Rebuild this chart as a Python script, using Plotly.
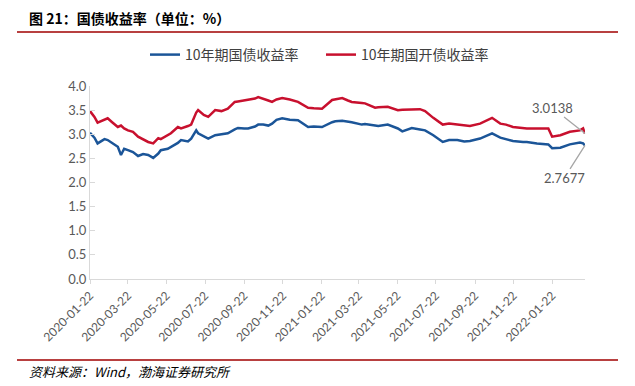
import plotly.graph_objects as go

dates = [
    "2020-01-22", "2020-01-29", "2020-02-03", "2020-02-10", "2020-02-14", "2020-02-19",
    "2020-02-26", "2020-03-06", "2020-03-11", "2020-03-16", "2020-03-22", "2020-03-30",
    "2020-04-07", "2020-04-15", "2020-04-23", "2020-05-01", "2020-05-09", "2020-05-13",
    "2020-05-24", "2020-05-29", "2020-06-09", "2020-06-14", "2020-06-25", "2020-06-30",
    "2020-07-08", "2020-07-11", "2020-07-20", "2020-07-27", "2020-08-07", "2020-08-17",
    "2020-08-27", "2020-09-07", "2020-09-12", "2020-09-22", "2020-09-28", "2020-10-09",
    "2020-10-14", "2020-10-22", "2020-10-30", "2020-11-05", "2020-11-12", "2020-11-21",
    "2020-12-03", "2020-12-16", "2021-01-01", "2021-01-10", "2021-01-23", "2021-02-08",
    "2021-02-13", "2021-02-24", "2021-03-05", "2021-03-11", "2021-03-27", "2021-04-01",
    "2021-04-17", "2021-04-22", "2021-05-07", "2021-05-23", "2021-05-30", "2021-06-14",
    "2021-06-27", "2021-07-05", "2021-07-18", "2021-08-02", "2021-08-12", "2021-08-25",
    "2021-09-05", "2021-09-14", "2021-09-30", "2021-10-10", "2021-10-19", "2021-11-01",
    "2021-11-10", "2021-11-21", "2021-12-07", "2021-12-13", "2021-12-29", "2022-01-16",
    "2022-01-22", "2022-02-04", "2022-02-19", "2022-03-07", "2022-03-12", "2022-03-15",
]

cdb_10y = [
    3.48, 3.36, 3.24, 3.28, 3.31, 3.33,
    3.25, 3.15, 3.18, 3.12, 3.08, 3.05,
    2.95, 2.90, 2.84, 2.81, 2.92, 2.90,
    2.98, 3.02, 3.15, 3.12, 3.17, 3.20,
    3.45, 3.50, 3.40, 3.36, 3.50, 3.48,
    3.53, 3.67, 3.68, 3.70, 3.71, 3.74,
    3.77, 3.74, 3.70, 3.67, 3.72, 3.75,
    3.72, 3.67, 3.55, 3.54, 3.53, 3.71,
    3.72, 3.75, 3.70, 3.67, 3.65, 3.64,
    3.55, 3.56, 3.57, 3.50, 3.51, 3.52,
    3.52, 3.48, 3.34, 3.20, 3.22, 3.20,
    3.18, 3.17, 3.22, 3.28, 3.34, 3.22,
    3.20, 3.15, 3.12, 3.12, 3.12, 3.12,
    2.95, 2.98, 3.05, 3.08, 3.12, 3.0138,
]

gov_10y = [
    3.03, 2.93, 2.81, 2.86, 2.90, 2.88,
    2.82, 2.74, 2.57, 2.70, 2.67, 2.63,
    2.55, 2.59, 2.57, 2.51, 2.60, 2.67,
    2.70, 2.74, 2.82, 2.88, 2.85, 2.91,
    3.08, 3.02, 2.95, 2.91, 2.98, 3.00,
    3.02, 3.10, 3.13, 3.12, 3.12, 3.16,
    3.20, 3.20, 3.18, 3.22, 3.30, 3.33,
    3.30, 3.29, 3.15, 3.16, 3.15, 3.25,
    3.27, 3.28, 3.27, 3.25, 3.20, 3.21,
    3.18, 3.17, 3.20, 3.12, 3.06, 3.13,
    3.10, 3.08, 2.98, 2.84, 2.88, 2.88,
    2.85, 2.86, 2.91, 2.96, 3.02, 2.93,
    2.90, 2.86, 2.84, 2.84, 2.81, 2.79,
    2.71, 2.72, 2.79, 2.83, 2.81, 2.7677,
]

tick_dates = [
    "2020-01-22", "2020-03-22", "2020-05-22", "2020-07-22", "2020-09-22", "2020-11-22",
    "2021-01-22", "2021-03-22", "2021-05-22", "2021-07-22", "2021-09-22", "2021-11-22",
    "2022-01-22",
]
y_ticks = [0.0, 0.5, 1.0, 1.5, 2.0, 2.5, 3.0, 3.5, 4.0]

BLUE = "#1B5598"
RED = "#C8102E"
CJK = "Noto Sans CJK SC"

fig = go.Figure()
fig.add_trace(go.Scatter(x=dates, y=gov_10y, mode="lines", name="10年期国债收益率",
                         line=dict(color=BLUE, width=2.5)))
fig.add_trace(go.Scatter(x=dates, y=cdb_10y, mode="lines", name="10年期国开债收益率",
                         line=dict(color=RED, width=2.5)))

L, R, T, B = 90, 50, 86, 107
W, H = 635, 386
pw, ph = W - L - R, H - T - B

def px(x):
    return (x - L) / pw

def py(y):
    return (H - B - y) / ph

fig.update_layout(
    width=W, height=H,
    margin=dict(l=L, r=R, t=T, b=B, pad=0, autoexpand=False),
    paper_bgcolor="white", plot_bgcolor="white",
    showlegend=True,
    legend=dict(orientation="h", x=px(145), xanchor="left", y=py(55), yanchor="middle",
                font=dict(family=CJK, size=14, color="#404040"),
                entrywidth=131, entrywidthmode="pixels",
                itemwidth=30, tracegroupgap=0, bgcolor="rgba(0,0,0,0)"),
    xaxis=dict(type="date", range=["2020-01-22", "2022-03-15"],
               tickvals=tick_dates, ticktext=tick_dates, tickangle=-45,
               tickfont=dict(family="Lato", size=12, color="#595959"),
               showgrid=False, zeroline=False, showline=True, linecolor="#D9D9D9",
               linewidth=1, ticks="outside", ticklen=4, tickcolor="#D9D9D9"),
    yaxis=dict(range=[0, 4], tickvals=y_ticks, ticktext=[f"{v:.1f}" for v in y_ticks],
               tickfont=dict(family="Lato", size=13, color="#595959"),
               showgrid=False, zeroline=False, showline=True, linecolor="#D9D9D9",
               linewidth=1, ticks="inside", ticklen=5, tickcolor="#D9D9D9"),
)

fig.add_annotation(x=dates[-1], y=cdb_10y[-1], text=f"{cdb_10y[-1]:.4f}", showarrow=True,
                   arrowhead=0, arrowwidth=1.3, arrowcolor="#A6A6A6", ax=-33, ay=-26,
                   font=dict(family="Lato", size=13, color="#595959"))
fig.add_annotation(x=dates[-1], y=gov_10y[-1], text=f"{gov_10y[-1]:.4f}", showarrow=True,
                   arrowhead=0, arrowwidth=1.3, arrowcolor="#A6A6A6", ax=-21, ay=33,
                   font=dict(family="Lato", size=13, color="#595959"))

fig.add_annotation(xref="paper", yref="paper", x=px(27), y=py(18), xanchor="left", yanchor="middle",
                   text="<b>图 21：国债收益率（单位：%）</b>", showarrow=False,
                   font=dict(family=CJK, size=14, color="black"))
fig.add_annotation(xref="paper", yref="paper", x=px(27), y=py(371), xanchor="left", yanchor="middle",
                   text="<i>资料来源：Wind，渤海证券研究所</i>", showarrow=False,
                   font=dict(family=CJK, size=13, color="black"))

for yy in (32, 360):
    fig.add_shape(type="line", xref="paper", yref="paper", x0=px(17), x1=px(618),
                  y0=py(yy), y1=py(yy), line=dict(color="#A00000", width=1.5))

fig.write_html("out.html", config={"displayModeBar": False},
               post_script="document.body.style.margin='0';document.body.style.overflow='hidden';")
